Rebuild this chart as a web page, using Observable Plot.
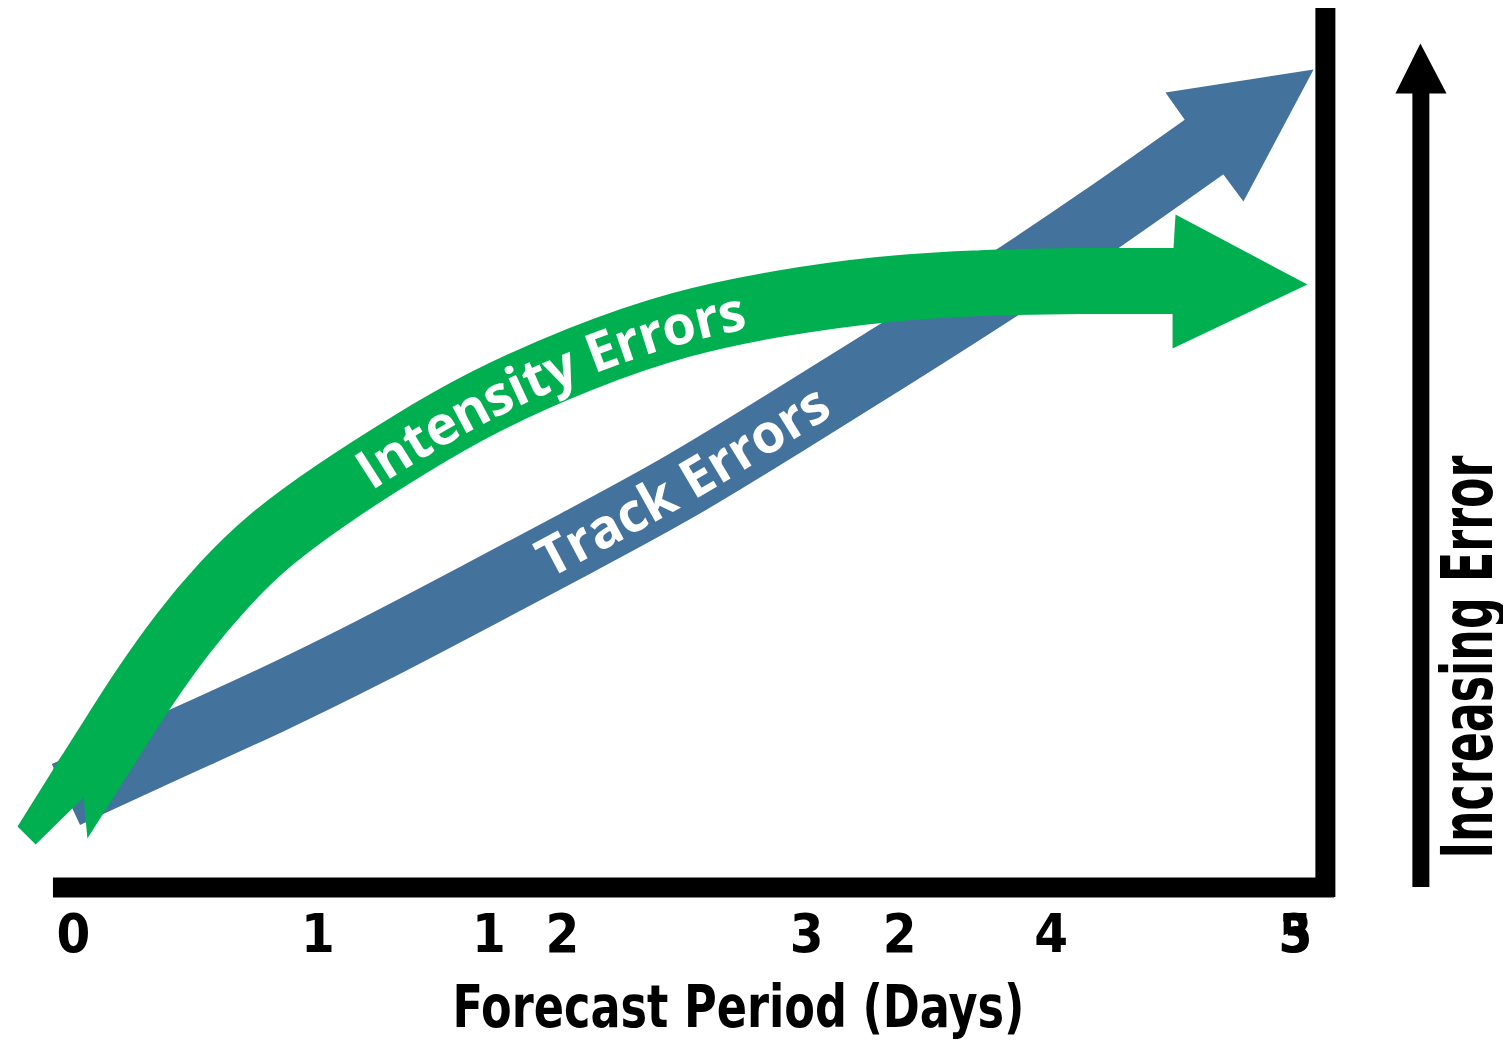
<!DOCTYPE html>
<html>
<head>
<meta charset="utf-8">
<script src="https://cdn.jsdelivr.net/npm/d3@7"></script>
<script src="https://cdn.jsdelivr.net/npm/@observablehq/plot@0.6"></script>
<style>
  html, body { margin: 0; padding: 0; background: #fff; }
  svg { display: block; }
</style>
</head>
<body>
<div id="chart"></div>
<script>
// ---- Tick labels (days) ----
const dayTicks = [0, 1, 2, 3, 4, 5];
const dayLabels = ["0", "1", "2", "3", "4", "5"];
const altTicks = [1.7, 3.38, 5];
const altLabels = ["1", "2", "3"];

// ---- Series labels ----
const seriesNames = ["Intensity Errors", "Track Errors"];
const seriesLabelDay = [1.93, 2.5];
const xTitle = "Forecast Period (Days)";
const yTitle = "Increasing Error";

// ---- Intensity Errors (green) centerline, x = day, y = relative error (0-100) ----
const intensityX = [0.029, 0.151, 0.274, 0.450, 0.614, 0.794, 1.064, 1.379, 1.665, 2.074, 2.484, 2.893, 3.302, 3.711, 4.120, 4.529];
const intensityY = [11.38, 16.72, 22.18, 29.12, 34.47, 39.48, 44.94, 50.51, 55.18, 60.30, 64.28, 66.55, 68.15, 68.83, 69.06, 69.00];
// arrow tail and head outline
const intensityTailX = [-0.045, -0.229, -0.155, 0.041, 0.057, 0.184];
const intensityTailY = [15.13, 6.94, 4.89, 10.24, 5.57, 11.15];
const intensityHeadX = [4.501, 4.509, 5.049, 4.497, 4.497];
const intensityHeadY = [72.81, 76.56, 68.60, 61.32, 65.19];

// ---- Track Errors (blue) centerline ----
const trackX = [-0.031, 0.397, 0.794, 1.203, 1.665, 2.074, 2.484, 2.893, 3.302, 3.793, 4.202, 4.652];
const trackY = [10.58, 16.10, 21.05, 26.62, 33.39, 39.42, 45.51, 52.56, 59.61, 68.26, 75.88, 84.76];
const trackHeadX = [4.546, 4.468, 5.074, 4.787, 4.705];
const trackHeadY = [87.37, 90.44, 93.06, 78.04, 81.11];

// ---- Axis frame lines and "Increasing Error" arrow ----
const baseLineX = [-0.082, 5.16];
const sideLineX = 5.1223;
const sideLineY = [-1.14, 100];
const errShaftX = 5.513;
const errShaftY = [0, 90.5];
const errHeadX = [5.511, 5.409, 5.618];
const errHeadY = [96.02, 90.33, 90.33];

const zip = (xs, ys) => xs.map((x, i) => ({x, y: ys[i]}));
const intensity = zip(intensityX, intensityY);
const intensityTail = zip(intensityTailX, intensityTailY);
const intensityHead = zip(intensityHeadX, intensityHeadY);
const track = zip(trackX, trackY);
const trackHead = zip(trackHeadX, trackHeadY);
const errHead = zip(errHeadX, errHeadY);

const GREEN = "#00b050";
const BLUE = "#43729d";
const narrow = '"Liberation Sans Narrow", "DejaVu Sans Condensed", "Arial Narrow", sans-serif';

const plot = Plot.plot({
  width: 1503,
  height: 1040,
  marginLeft: 73,
  marginRight: 208,
  marginTop: 8,
  marginBottom: 153,
  style: {background: "#fff", overflow: "visible"},
  x: {domain: [0, 5]},
  y: {domain: [0, 100], axis: null},
  marks: [
    // Track errors (blue)
    Plot.line(track, {x: "x", y: "y", stroke: BLUE, strokeWidth: 67, curve: "basis", strokeLinecap: "butt", strokeLinejoin: "miter"}),
    Plot.line(trackHead, {x: "x", y: "y", fill: BLUE, stroke: "none", curve: "linear"}),
    // Intensity errors (green)
    Plot.line(intensityTail, {x: "x", y: "y", fill: GREEN, stroke: "none", curve: "linear"}),
    Plot.line(intensity, {x: "x", y: "y", stroke: GREEN, strokeWidth: 66, curve: "basis", strokeLinecap: "butt", strokeLinejoin: "miter"}),
    Plot.line(intensityHead, {x: "x", y: "y", fill: GREEN, stroke: "none", curve: "linear"}),
    // frame lines
    Plot.ruleY([{y: 0, x1: baseLineX[0], x2: baseLineX[1]}], {y: "y", x1: "x1", x2: "x2", stroke: "#000", strokeWidth: 20}),
    Plot.ruleX([{x: sideLineX, y1: sideLineY[0], y2: sideLineY[1]}], {x: "x", y1: "y1", y2: "y2", stroke: "#000", strokeWidth: 20}),
    // increasing error arrow
    Plot.ruleX([{x: errShaftX, y1: errShaftY[0], y2: errShaftY[1]}], {x: "x", y1: "y1", y2: "y2", stroke: "#000", strokeWidth: 17}),
    Plot.line(errHead, {x: "x", y: "y", fill: "#000", stroke: "none", curve: "linear"}),
    // tick labels
    Plot.axisX({ticks: dayTicks, tickFormat: d => dayLabels[dayTicks.indexOf(d)], tickSize: 0, tickPadding: 26, fontSize: 54, fontWeight: "bold", fontFamily: narrow, fill: "#000", label: null}),
    Plot.axisX({ticks: altTicks, tickFormat: d => altLabels[altTicks.indexOf(d)], tickSize: 0, tickPadding: 26, fontSize: 54, fontWeight: "bold", fontFamily: narrow, fill: "#000", label: null}),
    // titles
    Plot.text([xTitle], {x: 2.721, frameAnchor: "bottom", lineAnchor: "top", dy: 98, fontSize: 59, fontWeight: "bold", fontFamily: narrow, fill: "#000", textAnchor: "middle"}),
    Plot.text([yTitle], {x: 5.71, y: 26.22, rotate: -90, lineAnchor: "middle", fontSize: 72, fontWeight: "bold", fontFamily: narrow, fill: "#000", textAnchor: "middle"})
  ]
});

document.getElementById("chart").appendChild(plot);

// exact text widths like the reference
const widths = {[xTitle]: 572, [yTitle]: 403};
plot.querySelectorAll('g[aria-label="text"] text').forEach(t => {
  const w = widths[t.textContent];
  if (w) { t.setAttribute("textLength", w); t.setAttribute("lengthAdjust", "spacingAndGlyphs"); }
});

// labels along the arrows
const ns = "http://www.w3.org/2000/svg";
const lineGroups = plot.querySelectorAll('g[aria-label="line"]');
const bodies = [lineGroups[3].querySelector("path"), lineGroups[0].querySelector("path")];
const xs = plot.scale("x");
bodies.forEach((path, i) => {
  const id = "seriesPath" + i;
  path.setAttribute("id", id);
  const target = xs.apply(seriesLabelDay[i]);
  const total = path.getTotalLength();
  let lo = 0, hi = total;
  for (let k = 0; k < 40; k++) {
    const mid = (lo + hi) / 2;
    if (path.getPointAtLength(mid).x < target) lo = mid; else hi = mid;
  }
  const text = document.createElementNS(ns, "text");
  text.setAttribute("fill", "#fff");
  text.setAttribute("font-family", '"Open Sans", "Noto Sans", sans-serif');
  text.setAttribute("font-weight", "bold");
  text.setAttribute("font-size", "54");
  text.setAttribute("text-anchor", "middle");
  text.setAttribute("dy", "0.36em");
  const tp = document.createElementNS(ns, "textPath");
  tp.setAttribute("href", "#" + id);
  tp.setAttribute("startOffset", lo);
  tp.textContent = seriesNames[i];
  text.appendChild(tp);
  plot.appendChild(text);
});
</script>
</body>
</html>
